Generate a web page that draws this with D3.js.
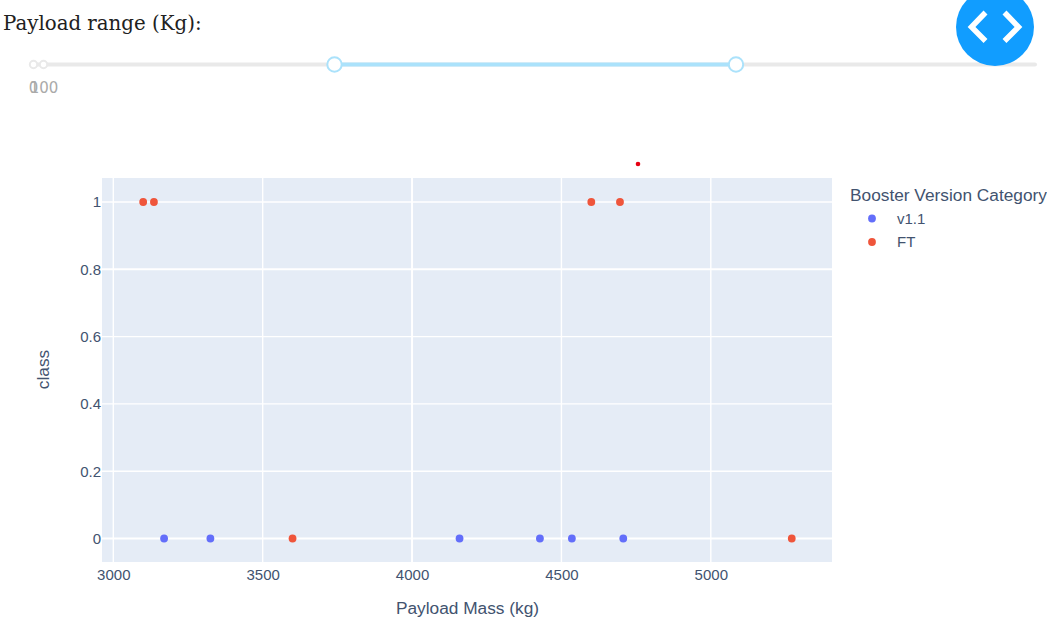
<!DOCTYPE html>
<html><head><meta charset="utf-8">
<script src="https://cdn.jsdelivr.net/npm/d3@7/dist/d3.min.js"></script>
<style>html,body{margin:0;padding:0;background:#fff;overflow:hidden}svg{display:block}</style>
</head><body><div id="c"></div>
<script>
const xTicks=[3000,3500,4000,4500,5000];
const yTicks=[0,0.2,0.4,0.6,0.8,1];
const yLabels=["0","0.2","0.4","0.6","0.8","1"];
const categories=["v1.1","FT"];
const colors=["#636efa","#ef553b"];
const v11Payload=[3170,3325,4159,4428,4535,4707];
const v11Class=[0,0,0,0,0,0];
const ftPayload=[3100,3136,3600,4600,4696,5271];
const ftClass=[1,1,0,1,1,0];
const sliderMarks=[0,100];
const sliderMarkLabels=["0","100"];
const sliderRange=[3735,5075];

const W=1047,H=622,font='"Liberation Sans",Arial,sans-serif',ink="#42536f";
const svg=d3.select("#c").append("svg").attr("width",W).attr("height",H);

// Plot
const pl=102,pr=832,pt=178,pb=562;
const x=d3.scaleLinear().domain([3000,5000]).range([113.3,710.8]);
const y=d3.scaleLinear().domain([0,1]).range([538.5,202]);
svg.append("rect").attr("x",pl).attr("y",pt).attr("width",pr-pl).attr("height",pb-pt).attr("fill","#e5ecf6");
const gridG=svg.append("g");
gridG.selectAll("line.gx").data(xTicks).join("line").attr("class","gx").attr("x1",d=>x(d)).attr("x2",d=>x(d)).attr("y1",pt).attr("y2",pb).attr("stroke","#fff").attr("stroke-width",d=>d===4000?2:1.4);
gridG.selectAll("line.gy").data(yTicks).join("line").attr("class","gy").attr("x1",pl).attr("x2",pr).attr("y1",d=>y(d)).attr("y2",d=>y(d)).attr("stroke","#fff").attr("stroke-width",d=>d===0||d===0.8?2:1.4);
const gx=svg.append("g").attr("transform",`translate(0,${pb})`).call(d3.axisBottom(x).tickValues(xTicks).tickFormat(d3.format("d")).tickSize(0).tickPadding(3));
const gy=svg.append("g").attr("transform",`translate(${pl},0)`).call(d3.axisLeft(y).tickValues(yTicks).tickFormat((d,i)=>yLabels[i]).tickSize(0).tickPadding(1));
[gx,gy].forEach(g=>{g.select(".domain").remove();g.selectAll("text").attr("font-family",font).attr("font-size",15).attr("fill",ink);});
gx.selectAll("text").attr("dy","1em");

const series=[{p:v11Payload,c:v11Class,col:colors[0]},{p:ftPayload,c:ftClass,col:colors[1]}];
series.forEach(s=>{
  svg.append("g").selectAll("circle").data(s.p).join("circle")
    .attr("cx",d=>x(d)).attr("cy",(d,i)=>y(s.c[i])).attr("r",3.9).attr("fill",s.col);
});
// small stray mark above the plot
svg.append("circle").attr("cx",638).attr("cy",164).attr("r",2.3).attr("fill","#e60012");

// axis titles
svg.append("text").attr("x",467.5).attr("y",613.5).attr("text-anchor","middle").attr("font-family",font).attr("font-size",17.3).attr("fill",ink).text("Payload Mass (kg)");
svg.append("text").attr("transform","translate(48.5,369.5) rotate(-90)").attr("text-anchor","middle").attr("font-family",font).attr("font-size",17.3).attr("fill",ink).text("class");

// legend
svg.append("text").attr("x",850).attr("y",200.5).attr("font-family",font).attr("font-size",17.3).attr("fill",ink).text("Booster Version Category");
categories.forEach((c,i)=>{
  const ly=218.5+i*23.5;
  svg.append("circle").attr("cx",872).attr("cy",ly).attr("r",3.9).attr("fill",colors[i]);
  svg.append("text").attr("x",897).attr("y",ly+5).attr("font-family",font).attr("font-size",15).attr("fill",ink).text(c);
});

// slider
svg.append("text").attr("x",3).attr("y",30).attr("font-family",'"DejaVu Serif",serif').attr("font-size",19.8).attr("fill","#212121").text("Payload range (Kg):");
const sy=64.5;
const s=d3.scaleLinear().domain(sliderRange).range([334.5,736]);
svg.append("line").attr("x1",33).attr("x2",1035).attr("y1",sy).attr("y2",sy).attr("stroke","#e9e9e9").attr("stroke-width",4).attr("stroke-linecap","round");
svg.append("line").attr("x1",s(sliderRange[0])).attr("x2",s(sliderRange[1])).attr("y1",sy).attr("y2",sy).attr("stroke","#abe2fb").attr("stroke-width",4);
const markX=[33.5,43.5];
sliderMarks.forEach((d,i)=>{
  svg.append("circle").attr("cx",markX[i]).attr("cy",sy).attr("r",3.7).attr("fill","#fff").attr("stroke","#e9e9e9").attr("stroke-width",2);
});
sliderMarkLabels.forEach((d,i)=>{
  svg.append("text").attr("x",i===0?33.5:44).attr("y",92.5).attr("text-anchor","middle").attr("font-family",'"DejaVu Sans",sans-serif').attr("font-size",15).attr("fill","#aaaaaa").text(d);
});
sliderRange.forEach(d=>{
  svg.append("circle").attr("cx",s(d)).attr("cy",sy).attr("r",7.2).attr("fill","#fff").attr("stroke","#abe2fb").attr("stroke-width",2);
});
// floating button
svg.append("circle").attr("cx",995).attr("cy",27).attr("r",39).attr("fill","#119dff");
const chev=d3.line();
[[[985.5,12.5],[971.5,27],[985.5,41]],[[1004.5,12.5],[1018.5,27],[1004.5,41]]].forEach(p=>{
  svg.append("path").attr("d",chev(p)).attr("fill","none").attr("stroke","#fff").attr("stroke-width",5.5);
});
</script></body></html>
